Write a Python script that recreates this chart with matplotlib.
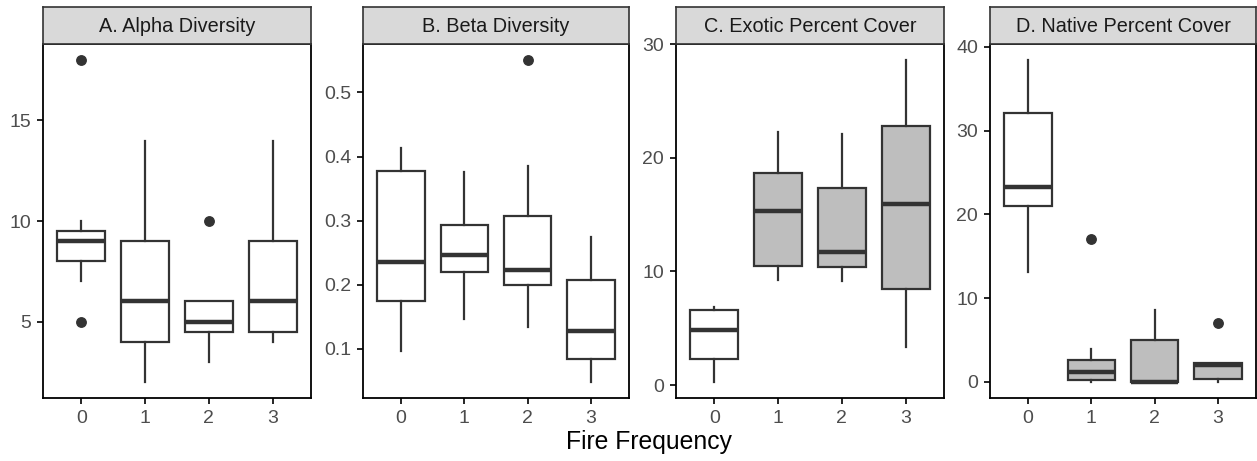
import matplotlib
matplotlib.use("Agg")
import matplotlib.pyplot as plt

plt.rcParams['font.family'] = ['Liberation Sans', 'DejaVu Sans']

categories = ['0', '1', '2', '3']
titles = ['A. Alpha Diversity', 'B. Beta Diversity', 'C. Exotic Percent Cover', 'D. Native Percent Cover']
xlabel = 'Fire Frequency'

# Panel A: Alpha diversity
alpha_whislo = [7, 2, 3, 4]
alpha_q1 = [8, 4, 4.5, 4.5]
alpha_med = [9, 6, 5, 6]
alpha_q3 = [9.5, 9, 6, 9]
alpha_whishi = [10, 14, 6, 14]
alpha_fliers = [[5, 18], [], [10], []]
alpha_ticks = [5, 10, 15]

# Panel B: Beta diversity
beta_whislo = [0.096, 0.147, 0.134, 0.0485]
beta_q1 = [0.175, 0.220, 0.200, 0.085]
beta_med = [0.236, 0.247, 0.223, 0.128]
beta_q3 = [0.378, 0.293, 0.307, 0.208]
beta_whishi = [0.414, 0.376, 0.386, 0.275]
beta_fliers = [[], [], [0.5505], []]
beta_ticks = [0.1, 0.2, 0.3, 0.4, 0.5]

# Panel C: Exotic percent cover
exotic_whislo = [0.29, 9.25, 9.13, 3.35]
exotic_q1 = [2.32, 10.45, 10.39, 8.48]
exotic_med = [4.84, 15.29, 11.74, 15.94]
exotic_q3 = [6.57, 18.64, 17.38, 22.81]
exotic_whishi = [6.90, 22.28, 22.10, 28.59]
exotic_fliers = [[], [], [], []]
exotic_ticks = [0, 10, 20, 30]

# Panel D: Native percent cover
native_whislo = [13.1, 0.0, 0.0, 0.0]
native_q1 = [20.96, 0.28, 0.0, 0.4]
native_med = [23.27, 1.16, 0.04, 2.07]
native_q3 = [32.15, 2.67, 5.02, 2.27]
native_whishi = [38.41, 3.90, 8.61, 2.27]
native_fliers = [[], [17.05], [], [7.01]]
native_ticks = [0, 10, 20, 30, 40]

panels = [
    (alpha_whislo, alpha_q1, alpha_med, alpha_q3, alpha_whishi, alpha_fliers, alpha_ticks, ['white'] * 4),
    (beta_whislo, beta_q1, beta_med, beta_q3, beta_whishi, beta_fliers, beta_ticks, ['white'] * 4),
    (exotic_whislo, exotic_q1, exotic_med, exotic_q3, exotic_whishi, exotic_fliers, exotic_ticks,
     ['white', '#BEBEBE', '#BEBEBE', '#BEBEBE']),
    (native_whislo, native_q1, native_med, native_q3, native_whishi, native_fliers, native_ticks,
     ['white', '#BEBEBE', '#BEBEBE', '#BEBEBE']),
]

W, H = 1257, 461
fig = plt.figure(figsize=(W / 100, H / 100), dpi=100)

lefts = [43, 363, 676, 990]
widths = [268, 266, 268, 266]
ax_bottom_px = 398
ax_top_px = 44
strip_top_px = 7
line_col = '#333333'

for i, (wlo, q1, med, q3, whi, fl, ticks, fills) in enumerate(panels):
    l = lefts[i] / W
    w = widths[i] / W
    b = (H - ax_bottom_px) / H
    h = (ax_bottom_px - ax_top_px) / H
    ax = fig.add_axes([l, b, w, h])
    stats = []
    for k in range(len(categories)):
        stats.append(dict(med=med[k], q1=q1[k], q3=q3[k], whislo=wlo[k], whishi=whi[k],
                          fliers=fl[k], label=categories[k]))
    positions = list(range(len(categories)))
    bp = ax.bxp(stats, positions=positions, widths=0.75, patch_artist=True, showcaps=False,
                boxprops=dict(edgecolor=line_col, linewidth=1.6),
                whiskerprops=dict(color=line_col, linewidth=1.6),
                medianprops=dict(color=line_col, linewidth=3.2, solid_capstyle='butt'),
                flierprops=dict(marker='o', markerfacecolor=line_col, markeredgecolor=line_col,
                                markersize=6.8, linestyle='none'))
    for patch, fc in zip(bp['boxes'], fills):
        patch.set_facecolor(fc)
    allv = wlo + whi + [v for f in fl for v in f]
    lo, hi = min(allv), max(allv)
    pad = (hi - lo) * 0.05
    ax.set_ylim(lo - pad, hi + pad)
    ax.set_xlim(-0.6, 3.6)
    ax.set_yticks(ticks)
    ax.set_yticklabels([('%g' % t) for t in ticks])
    ax.set_xticks(positions)
    ax.set_xticklabels(categories)
    ax.tick_params(axis='both', colors='black', labelcolor='#4D4D4D', labelsize=14, length=4.5, width=1.2, pad=4)
    for s in ax.spines.values():
        s.set_color('black')
        s.set_linewidth(1.3)
    # strip
    sax = fig.add_axes([l, (H - ax_top_px) / H, w, (ax_top_px - strip_top_px) / H])
    sax.set_facecolor('#D9D9D9')
    sax.set_xticks([])
    sax.set_yticks([])
    for s in sax.spines.values():
        s.set_color(line_col)
        s.set_linewidth(1.2)
    sax.text(0.5, 0.47, titles[i], ha='center', va='center', fontsize=14.3, color='#1A1A1A',
             transform=sax.transAxes)

fig.text((43 + 1256) / 2 / W, 1 - 442 / H, xlabel, ha='center', va='center', fontsize=17.8, color='black')

fig.savefig('out.png', dpi=100)
